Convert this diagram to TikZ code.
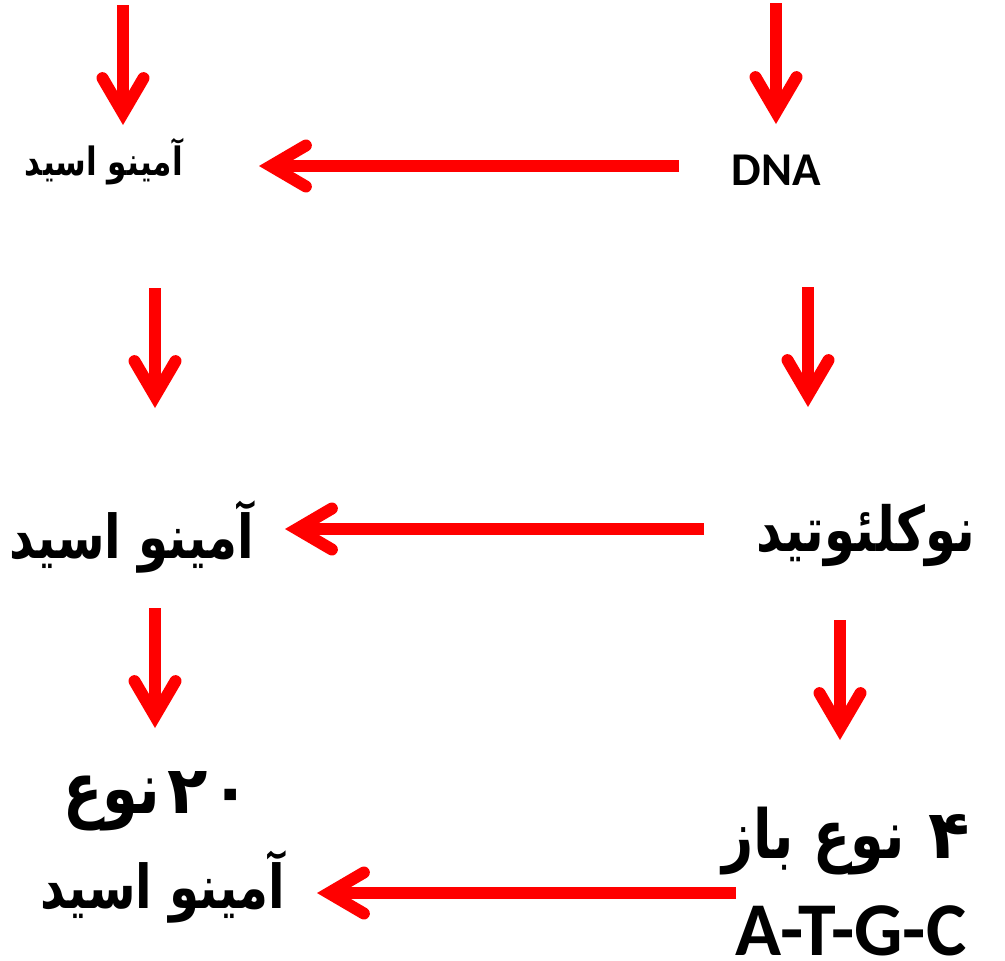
\documentclass[tikz,border=0pt]{standalone}
\usepackage{graphicx}
\usepackage{fontspec}
\usetikzlibrary{arrows.meta}
\TeXXeTstate=1
\newfontfamily\arabicfont[Script=Arabic]{DejaVu Sans}
\newfontfamily\latinfont{Carlito}
\definecolor{arrowred}{RGB}{255,0,0}
% fit a label to a given ink width, then stretch it a little upwards
\newcommand{\fitw}[2]{\scalebox{1}[1.25]{\resizebox{#1}{!}{#2}}}
% Persian digits scaled to a given height above the baseline
\newcommand{\fith}[2]{\resizebox{!}{#1}{#2}}

\tikzset{
  flow/.style={draw=arrowred, line width=12pt,
    -{Straight Barb[length=35pt,width=41pt,line cap=round,line join=miter]}},
  fa/.style={font=\arabicfont\bfseries, inner sep=0pt},
  lat/.style={inner sep=0pt},
}

\begin{document}
\begin{tikzpicture}[x=1pt,y=-1pt]
  \useasboundingbox (0,0) rectangle (1005,961);

  % labels
  \node[fa]  (aa1)  at (104,162) {\fitw{158pt}{\beginR آمینو اسید\endR}};
  \node[lat, font=\latinfont\bfseries\fontsize{47}{50}\selectfont] (dna) at (776,170) {DNA};
  \node[fa]  (aa2)  at (132,537) {\fitw{245pt}{\beginR آمینو اسید\endR}};
  \node[fa]  (nuc)  at (866,535) {\fitw{218pt}{\beginR نوکلئوتید\endR}};
  \node[fa, anchor=base west] (n20) at (63,813)
    {\fitw{97pt}{\beginR نوع\endR}\hspace{7pt}\fith{42pt}{۲\hspace{0.05em}۰}};
  \node[fa]  (aa3)  at (163,887) {\fitw{245pt}{\beginR آمینو اسید\endR}};
  \node[fa, anchor=base east] (base) at (970,858)
    {\fitw{182pt}{\beginR نوع باز\endR}\hspace{24pt}\fith{44pt}{۴}};
  \node[lat, font=\latinfont\bfseries\fontsize{76}{79}\selectfont, anchor=base] (atgc) at (851,955) {A-T-G-C};

  % arrow end points
  \coordinate (t1s) at (123,5);   \coordinate (t1e) at (123,125);
  \coordinate (t2s) at (776,3);   \coordinate (t2e) at (776,124);
  \coordinate (h1s) at (679,166); \coordinate (h1e) at (259,166);
  \coordinate (l2s) at (155,288); \coordinate (l2e) at (155,408);
  \coordinate (r2s) at (808,287); \coordinate (r2e) at (808,407);
  \coordinate (h2s) at (704,529); \coordinate (h2e) at (285,529);
  \coordinate (l3s) at (155,608); \coordinate (l3e) at (155,728);
  \coordinate (r3s) at (840,620); \coordinate (r3e) at (840,740);
  \coordinate (h3s) at (736,893); \coordinate (h3e) at (317,893);

  % arrows
  \draw[flow] (t1s) -- (t1e);
  \draw[flow] (t2s) -- (t2e);
  \draw[flow] (h1s) -- (h1e);
  \draw[flow] (l2s) -- (l2e);
  \draw[flow] (r2s) -- (r2e);
  \draw[flow] (h2s) -- (h2e);
  \draw[flow] (l3s) -- (l3e);
  \draw[flow] (r3s) -- (r3e);
  \draw[flow] (h3s) -- (h3e);
\end{tikzpicture}
\end{document}
